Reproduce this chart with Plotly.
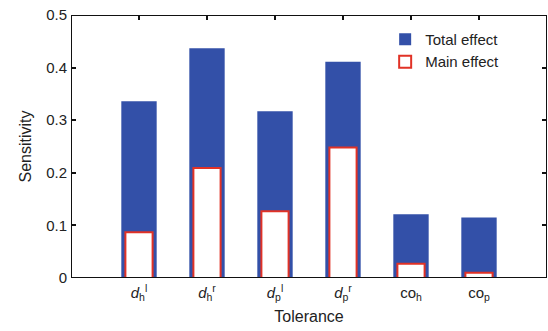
import plotly.graph_objects as go

categories = [1, 2, 3, 4, 5, 6]
tick_labels = ["<i>d</i><sub>h</sub><sup>l</sup>", "<i>d</i><sub>h</sub><sup>r</sup>",
               "<i>d</i><sub>p</sub><sup>l</sup>", "<i>d</i><sub>p</sub><sup>r</sup>",
               "co<sub>h</sub>", "co<sub>p</sub>"]
y_ticks = [0, 0.1, 0.2, 0.3, 0.4, 0.5]
y_tick_labels = ["0", "0.1", "0.2", "0.3", "0.4", "0.5"]
total_effect = [0.336, 0.437, 0.317, 0.411, 0.121, 0.115]
main_effect = [0.087, 0.209, 0.127, 0.248, 0.027, 0.010]

x_range = [0, 7]
y_range = [0, 0.5]

blue = "rgb(51,80,168)"
red = "rgb(225,50,38)"
frame_col = "#111111"
font = "Liberation Sans, Arial, sans-serif"

PW, PH = 476, 263  # plot area size in px

fig = go.Figure()
fig.add_trace(go.Bar(x=categories, y=total_effect, name="Total effect", width=0.52,
                     marker=dict(color=blue, line=dict(width=0))))
fig.add_trace(go.Bar(x=categories, y=main_effect, name="Main effect", width=0.40,
                     marker=dict(color="white", line=dict(color=red, width=2))))

x0, x1 = x_range
y0, y1 = y_range
px_x = (x1 - x0) / PW
px_y = (y1 - y0) / PH
lw = 1.5   # frame thickness, px
tl = 5     # tick length, px
tw = 1.2   # tick thickness, px

frame_style = dict(marker=dict(color=frame_col, line=dict(width=0)), showlegend=False,
                   hoverinfo="skip", cliponaxis=False)

# vertical frame edges (left / right) as thin vertical bars
fig.add_trace(go.Bar(x=[x0, x1], y=[y1 - y0 + lw * px_y] * 2, base=[y0 - lw / 2 * px_y] * 2,
                     width=[lw * px_x] * 2, **frame_style))
# horizontal frame edges (bottom / top) as thin horizontal bars
fig.add_trace(go.Bar(orientation="h", y=[y0, y1], x=[x1 - x0 + lw * px_x] * 2,
                     base=[x0 - lw / 2 * px_x] * 2, width=[lw * px_y] * 2, **frame_style))
# inside ticks on left and right (y ticks)
inner_y = y_ticks[1:-1]
fig.add_trace(go.Bar(orientation="h", y=inner_y + inner_y, x=[tl * px_x] * (2 * len(inner_y)),
                     base=[x0] * len(inner_y) + [x1 - tl * px_x] * len(inner_y),
                     width=[tw * px_y] * (2 * len(inner_y)), **frame_style))
# inside ticks on top (x ticks)
fig.add_trace(go.Bar(x=categories, y=[tl * px_y] * len(categories),
                     base=[y1 - tl * px_y] * len(categories),
                     width=[tw * px_x] * len(categories), **frame_style))

axis_common = dict(showline=False, ticks="", showgrid=False, zeroline=False,
                   tickfont=dict(family=font, size=15, color="#222"))
fig.update_layout(
    width=548, height=331,
    margin=dict(l=71, r=1, t=15, b=53),
    paper_bgcolor="white", plot_bgcolor="white",
    barmode="overlay",
    showlegend=True,
    legend=dict(x=0.66, y=0.97, xanchor="left", yanchor="top", bgcolor="rgba(0,0,0,0)",
                font=dict(family=font, size=15, color="#222"), itemwidth=30, tracegroupgap=0),
    xaxis=dict(range=x_range, autorange=False, tickmode="array", tickvals=categories,
               ticktext=tick_labels, ticklabelstandoff=4,
               title=dict(text="Tolerance", font=dict(family=font, size=16, color="#222"), standoff=8),
               **axis_common),
    yaxis=dict(range=y_range, autorange=False, tickmode="array", tickvals=y_ticks,
               ticktext=y_tick_labels, ticklabelstandoff=3,
               title=dict(text="Sensitivity", font=dict(family=font, size=16, color="#222"), standoff=10),
               **axis_common),
)

fig.write_html("out.html", config={"displayModeBar": False},
               post_script="document.body.style.margin='0';document.body.style.overflow='hidden';")
